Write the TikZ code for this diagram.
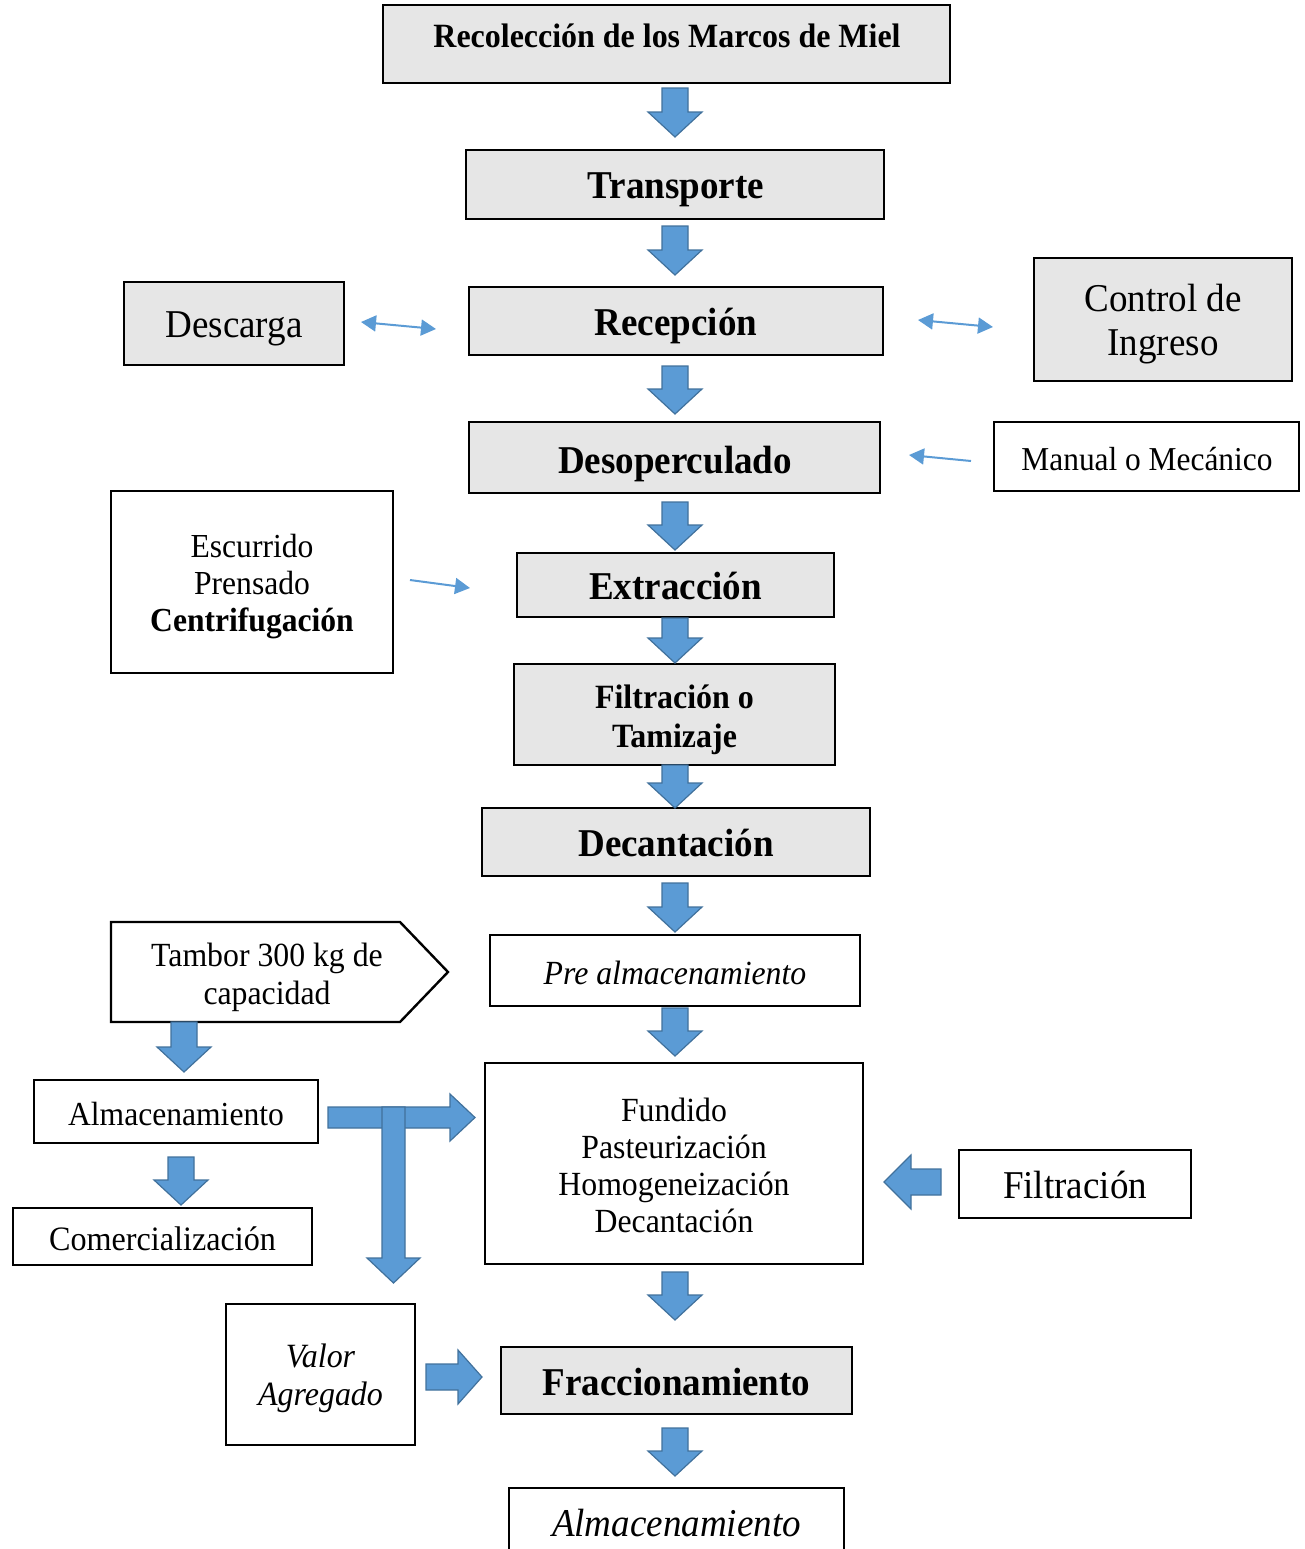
\documentclass[tikz,border=0pt]{standalone}
\usepackage{fontspec}
\setmainfont{Liberation Serif}[FakeStretch=0.94]
\usetikzlibrary{arrows.meta}
\definecolor{boxgray}{HTML}{E6E6E6}
\definecolor{arrfill}{HTML}{5B9BD5}
\definecolor{arrline}{HTML}{41719C}
\newcommand\fB{\fontsize{19.7}{22}\selectfont}
\newcommand\fM{\fontsize{16.8}{18.5}\selectfont}
\newcommand\darr[3]{%
  \draw[barrow] ({#1-13},#2) -- ({#1+13},#2) -- ({#1+13},{#3-25}) -- ({#1+27},{#3-25}) -- (#1,#3) -- ({#1-27},{#3-25}) -- ({#1-13},{#3-25}) -- cycle;}
\newcommand\rarr[3]{%
  \draw[barrow] (#2,{#1-13}) -- ({#3-24},{#1-13}) -- ({#3-24},{#1-27}) -- (#3,#1) -- ({#3-24},{#1+27}) -- ({#3-24},{#1+13}) -- (#2,{#1+13}) -- cycle;}
\newcommand\larr[3]{%
  \draw[barrow] (#3,{#1-13}) -- ({#2+27},{#1-13}) -- ({#2+27},{#1-27}) -- (#2,#1) -- ({#2+27},{#1+27}) -- ({#2+27},{#1+13}) -- (#3,{#1+13}) -- cycle;}
\begin{document}
\begin{tikzpicture}[x=0.5pt,y=-0.5pt,
  gbox/.style={draw, line width=1.2pt, fill=boxgray, inner sep=0pt},
  wbox/.style={draw, line width=1.2pt, fill=white, inner sep=0pt},
  lbl/.style={inner sep=0pt, anchor=base, align=center},
  mlbl/.style={inner sep=0pt, anchor=center, align=center},
  barrow/.style={fill=arrfill, draw=arrline, line width=0.6pt, line join=miter},
  thinarrow/.style={draw=arrfill, line width=1pt, {Triangle[length=7.5pt,width=8pt]}-{Triangle[length=7.5pt,width=8pt]}},
  thinone/.style={draw=arrfill, line width=1pt, -{Triangle[length=7.5pt,width=8pt]}}]
\useasboundingbox (0,0) rectangle (1305,1549);

% boxes
\node[gbox, minimum width=283.5pt, minimum height=39pt] (rec) at (666.5,44) {};
\node[gbox, minimum width=209pt, minimum height=34.5pt] (tra) at (675,184.5) {};
\node[gbox, minimum width=207pt, minimum height=34pt] (rcp) at (676,321) {};
\node[gbox, minimum width=110pt, minimum height=41.5pt] (des) at (234,323.5) {};
\node[gbox, minimum width=129pt, minimum height=61.5pt] (ctl) at (1163,319.5) {};
\node[gbox, minimum width=205.5pt, minimum height=35.5pt] (dso) at (674.5,457.5) {};
\node[wbox, minimum width=152.5pt, minimum height=34.5pt] (man) at (1146.5,456.5) {};
\node[wbox, minimum width=141pt, minimum height=91pt] (esc) at (252,582) {};
\node[gbox, minimum width=158.5pt, minimum height=32pt] (ext) at (675.5,585) {};
\node[gbox, minimum width=160.5pt, minimum height=50.5pt] (fil) at (674.5,714.5) {};
\node[gbox, minimum width=194pt, minimum height=34pt] (dec) at (676,842) {};
\node[wbox, minimum width=185pt, minimum height=35.5pt] (pre) at (675,970.5) {};
\draw[line width=1.2pt, fill=white, line join=miter] (111,922) -- (400,922) -- (448,972) -- (400,1022) -- (111,1022) -- cycle;
\node[wbox, minimum width=142pt, minimum height=31.5pt] (alm) at (176,1111.5) {};
\node[wbox, minimum width=149.5pt, minimum height=28.5pt] (com) at (162.5,1236.5) {};
\node[wbox, minimum width=189pt, minimum height=100.5pt] (fun) at (674,1163.5) {};
\node[wbox, minimum width=116pt, minimum height=34pt] (flt) at (1075,1184) {};
\node[wbox, minimum width=94.5pt, minimum height=70.5pt] (val) at (320.5,1374.5) {};
\node[gbox, minimum width=175.5pt, minimum height=33.5pt] (fra) at (676.5,1380.5) {};
\node[wbox, minimum width=167.5pt, minimum height=38pt] (alb) at (676.5,1526) {};

% texts
\node[lbl, font=\fontsize{17}{19}\selectfont\bfseries] (recT) at (667,47) {Recolección de los Marcos de Miel};
\node[lbl, font=\fB\bfseries] (traT) at (676,198) {Transporte};
\node[lbl, font=\fB\bfseries] (rcpT) at (676,335) {Recepción};
\node[lbl, font=\fB] (desT) at (234,337.5) {Descarga};
\node[mlbl, font=\fB] (ctlT) at (1163,324.5) {Control de\\Ingreso};
\node[lbl, font=\fB\bfseries] (dsoT) at (675,473) {Desoperculado};
\node[lbl, font=\fontsize{16.7}{18.5}\selectfont] (manT) at (1147,470) {Manual o Mecánico};
\node[mlbl, font=\fM] (escT) at (252,587) {Escurrido\\Prensado\\\textbf{Centrifugación}};
\node[lbl, font=\fB\bfseries] (extT) at (675.5,599.5) {Extracción};
\node[mlbl, font=\fontsize{17}{19.5}\selectfont\bfseries] (filT) at (674.5,719.5) {Filtración o\\Tamizaje};
\node[lbl, font=\fB\bfseries] (decT) at (676,856) {Decantación};
\node[lbl, font=\fontsize{16.9}{18.5}\selectfont\itshape] (preT) at (675,984) {Pre almacenamiento};
\node[mlbl, font=\fontsize{16.9}{19}\selectfont] (tamT) at (267,977) {Tambor 300 kg de\\capacidad};
\node[lbl, font=\fM] (almT) at (176,1125) {Almacenamiento};
\node[lbl, font=\fontsize{17.1}{19}\selectfont] (comT) at (162.5,1250) {Comercialización};
\node[mlbl, font=\fontsize{16.9}{18.5}\selectfont] (funT) at (674,1165.5) {Fundido\\Pasteurización\\Homogeneización\\Decantación};
\node[lbl, font=\fB] (fltT) at (1075,1198) {Filtración};
\node[mlbl, font=\fontsize{17}{19}\selectfont\itshape] (valT) at (320.5,1378.5) {Valor\\Agregado};
\node[lbl, font=\fB\bfseries] (fraT) at (676.5,1395) {Fraccionamiento};
\node[lbl, font=\fB\itshape] (albT) at (676.5,1536) {Almacenamiento};

% block arrows
\darr{675}{88}{137}
\darr{675}{226}{275}
\darr{675}{366}{414}
\darr{675}{502}{550}
\darr{675}{618}{663}
\darr{675}{765}{808}
\darr{675}{883}{932}
\darr{675}{1008}{1056}
\darr{675}{1272}{1320}
\darr{675}{1428}{1476}
\darr{184}{1022}{1072}
\darr{181}{1157}{1205}
\rarr{1377}{426}{482}
\larr{1182}{884}{941}
% T-shaped arrow
\draw[barrow] (328,1107) -- (450,1107) -- (450,1094) -- (475,1117.5) -- (450,1141) -- (450,1128) -- (328,1128) -- cycle;
\draw[barrow] (382,1107) -- (405,1107) -- (405,1258) -- (420,1258) -- (393.5,1283) -- (367,1258) -- (382,1258) -- cycle;

% thin arrows
\coordinate (d1) at (361,322); \coordinate (d2) at (436,329);
\coordinate (c1) at (918,320); \coordinate (c2) at (993,327);
\coordinate (m1) at (971,461); \coordinate (m2) at (909,455);
\coordinate (e1) at (410,580); \coordinate (e2) at (470,588);
\draw[thinarrow] (d1) -- (d2);
\draw[thinarrow] (c1) -- (c2);
\draw[thinone] (m1) -- (m2);
\draw[thinone] (e1) -- (e2);
\end{tikzpicture}
\end{document}
